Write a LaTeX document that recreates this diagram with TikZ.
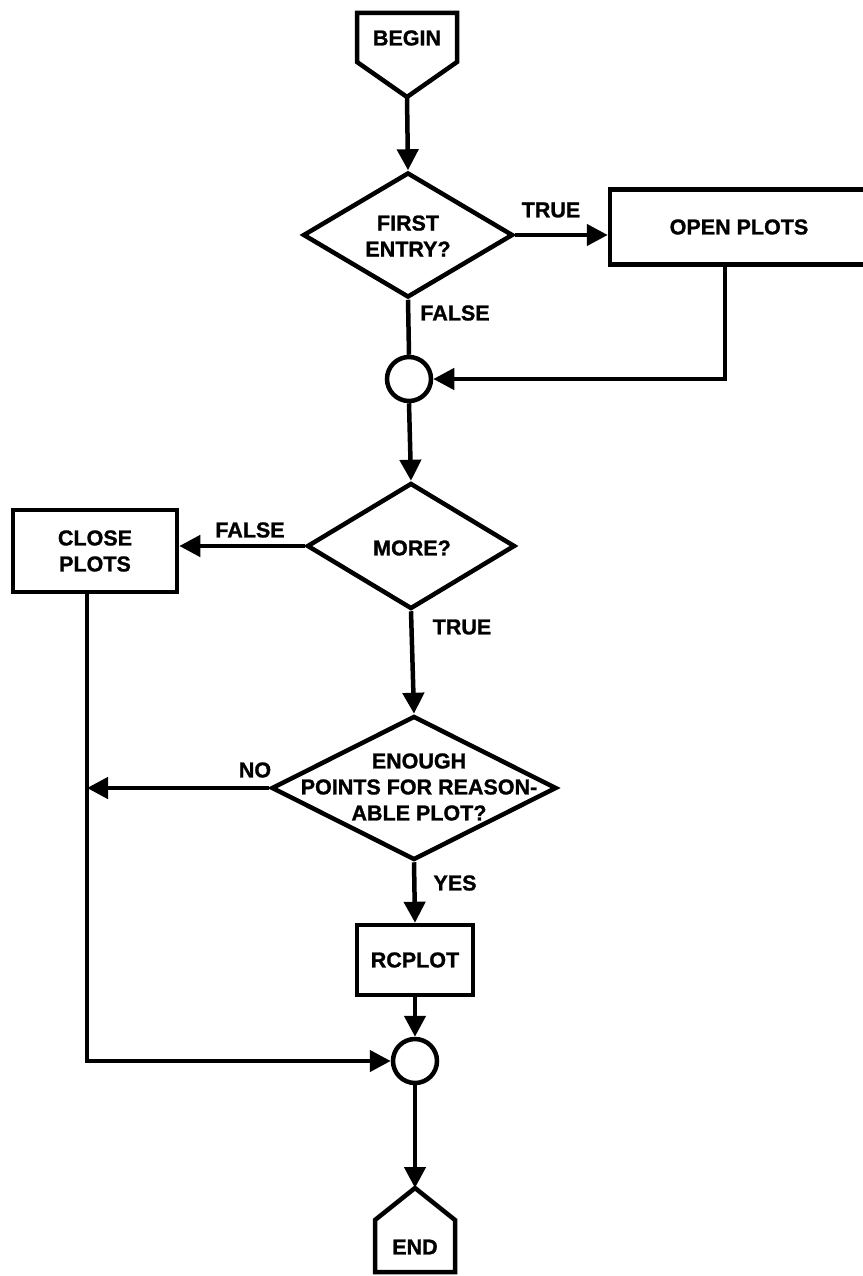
\documentclass[tikz,border=0pt]{standalone}
\usepackage{fontspec}
\setmainfont{Liberation Sans}[BoldFeatures={FakeBold=1.2}]
\usetikzlibrary{shapes.geometric,arrows.meta}
\newcommand\flowfont{\fontsize{21.5}{26}\selectfont\bfseries}
\begin{document}
\begin{tikzpicture}[x=1pt,y=-1pt,
  line width=4.5pt, line join=miter,
  dia/.style={draw, shape=diamond, inner sep=0pt},
  box/.style={draw, rectangle, inner sep=0pt, align=center, font=\flowfont},
  txt/.style={inner sep=0pt, align=center, font=\flowfont},
  arr/.style={-{Triangle[length=21pt,width=21pt]}},
  circ/.style={draw, circle, minimum size=44pt, inner sep=0pt}]
\useasboundingbox (0,0) rectangle (862,1276);

% BEGIN
\draw (357,62) -- (357,13) -- (457,13) -- (457,62) -- (407,97) -- cycle;
\node[txt] (begin) at (407,38) {BEGIN};
\coordinate (bapex) at (407,97);

% FIRST ENTRY?
\node[dia, minimum width=210pt, minimum height=125pt] (d1) at (408,235) {};
\node[txt] (d1t) at (408,236) {FIRST\\ENTRY?};
\draw[arr] (bapex) -- (d1.north);

\node[box, minimum width=258pt, minimum height=75pt] (open) at (739,227) {OPEN PLOTS};
\draw[arr] (d1.east) -- (d1.east -| open.west);
\node[txt] (t1) at (551,210) {TRUE};
\node[txt] (f1) at (455,313) {FALSE};

% junction 1
\node[circ] (c1) at (409,379) {};
\draw (d1.south) -- (c1.north);
\draw[arr] ([xshift=-14pt]open.south) |- (c1.east);

% MORE?
\node[dia, minimum width=208pt, minimum height=126pt] (d2) at (411,546) {};
\node[txt] (d2t) at (412,548) {MORE?};
\draw[arr] (c1.south) -- (d2.north);

\node[box, minimum width=164pt, minimum height=82pt] (close) at (95,551) {CLOSE\\PLOTS};
\draw[arr] (d2.west) -- (d2.west -| close.east);
\node[txt] (f2) at (250,530) {FALSE};
\node[txt] (t2) at (462,627) {TRUE};

% ENOUGH POINTS
\node[dia, minimum width=285pt, minimum height=144pt] (d3) at (414,788) {};
\node[txt] (d3t) at (419,787) {ENOUGH\\POINTS FOR REASON-\\ABLE PLOT?};
\draw[arr] (d2.south) -- (d3.north);
\coordinate (nj) at ([xshift=-8pt]close.south |- d3.west);
\draw[arr] (d3.west) -- (nj);
\node[txt] (no) at (255,770) {NO};
\node[txt] (yes) at (455,883) {YES};

% RCPLOT
\node[box, minimum width=116pt, minimum height=70pt] (rc) at (415,960) {RCPLOT};
\draw[arr] (d3.south) -- (rc.north);

% junction 2
\node[circ] (c2) at (415,1061) {};
\draw[arr] (rc.south) -- (c2.north);
\draw[arr] ([xshift=-8pt]close.south) |- (c2.west);

% END
\coordinate (eapex) at (415,1188);
\draw (eapex) -- (455,1220) -- (455,1272) -- (375,1272) -- (375,1220) -- cycle;
\node[txt] (end) at (415,1247) {END};
\draw[arr] (c2.south) -- (eapex);
\end{tikzpicture}
\end{document}
